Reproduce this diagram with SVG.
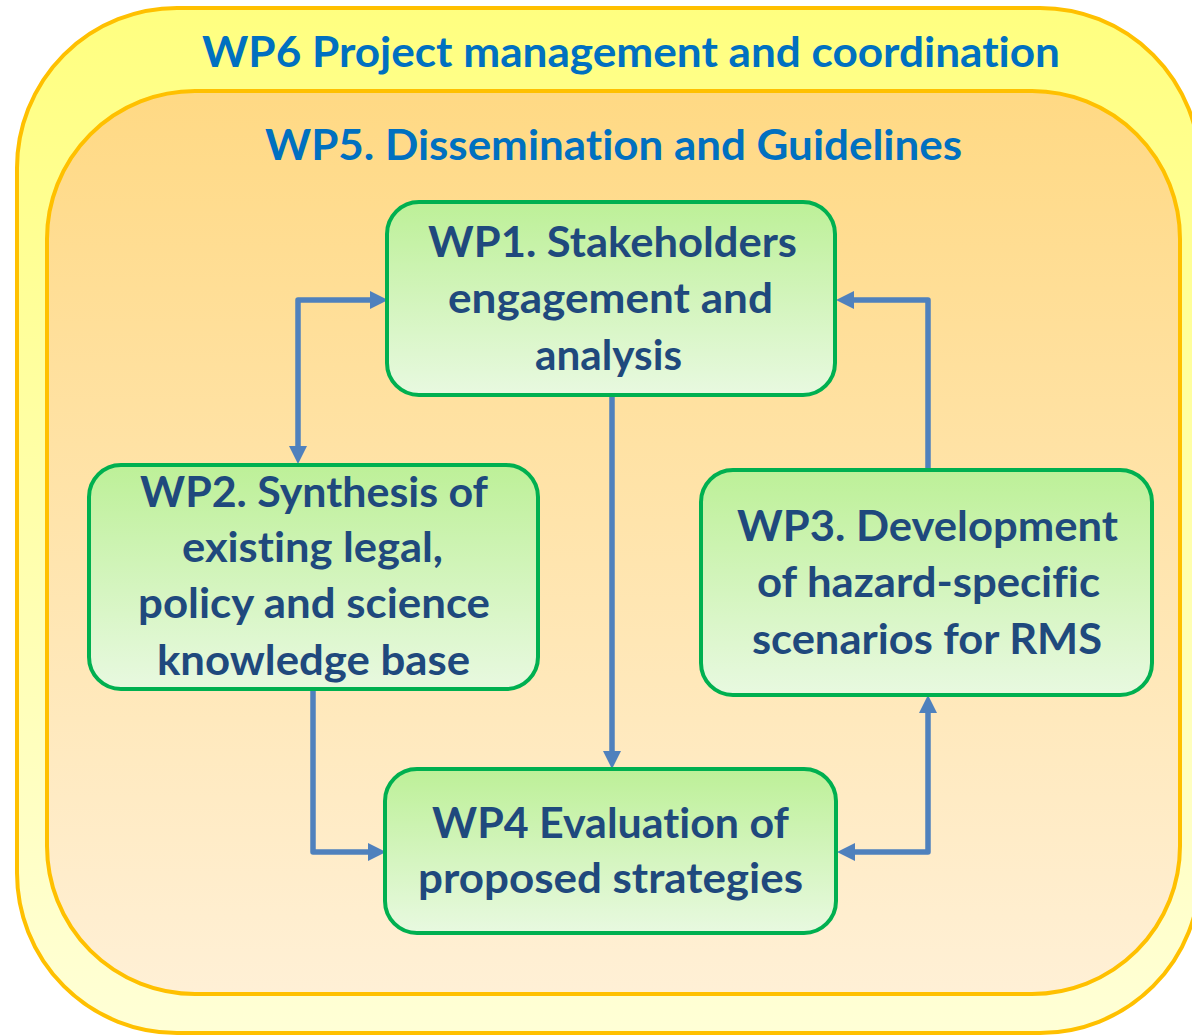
<svg xmlns="http://www.w3.org/2000/svg" width="1192" height="1036" viewBox="0 0 1192 1036">
  <defs>
    <linearGradient id="gOuter" x1="0" y1="0" x2="0" y2="1">
      <stop offset="0" stop-color="#FFFF80"/>
      <stop offset="1" stop-color="#FFFFD6"/>
    </linearGradient>
    <linearGradient id="gInner" x1="0" y1="0" x2="0" y2="1">
      <stop offset="0" stop-color="#FFD984"/>
      <stop offset="1" stop-color="#FFF0D6"/>
    </linearGradient>
    <linearGradient id="gNode" x1="0" y1="0" x2="0" y2="1">
      <stop offset="0" stop-color="#BDF098"/>
      <stop offset="1" stop-color="#E8F9E0"/>
    </linearGradient>
    <marker id="arr" viewBox="0 0 18 18" markerWidth="18" markerHeight="18" refX="1" refY="9" orient="auto-start-reverse" markerUnits="userSpaceOnUse">
      <path d="M0,0 L18,9 L0,18 z" fill="#4F81BD"/>
    </marker>
    <style>
      .title { font-family: Lato, "Liberation Sans", sans-serif; font-weight: bold; font-size: 42px; fill: #0070C0; font-variant-ligatures: none; font-feature-settings: "liga" 0, "dlig" 0, "clig" 0; }
      .frame { stroke: #FFC000; stroke-width: 4; }
      .box { fill: url(#gNode); stroke: #00B050; stroke-width: 4; }
      .lbl { font-family: Lato, "Liberation Sans", sans-serif; font-weight: bold; font-size: 42px; fill: #1F497D; font-variant-ligatures: none; font-feature-settings: "liga" 0, "dlig" 0, "clig" 0; }
      .conn { fill: none; stroke: #4F81BD; stroke-width: 5.5; stroke-linejoin: round; }
    </style>
  </defs>

  <g id="wp6">
    <rect class="frame" x="17" y="8" width="1183" height="1025" rx="160" ry="160" fill="url(#gOuter)"/>
    <text class="title" x="202" y="67" textLength="858" lengthAdjust="spacingAndGlyphs">WP6 Project management and coordination</text>
  </g>

  <g id="wp5">
    <rect class="frame" x="47" y="91" width="1133" height="903" rx="148" ry="148" fill="url(#gInner)"/>
    <text class="title" x="265" y="160" textLength="697" lengthAdjust="spacingAndGlyphs">WP5. Dissemination and Guidelines</text>
  </g>

  <g id="connectors">
    <path class="conn" d="M371,300 H298 V447" marker-start="url(#arr)" marker-end="url(#arr)"/>
    <path class="conn" d="M612,395 V752" marker-end="url(#arr)"/>
    <path class="conn" d="M313,689 V852 H369" marker-end="url(#arr)"/>
    <path class="conn" d="M928,470 V300 H853" marker-end="url(#arr)"/>
    <path class="conn" d="M854,852 H928 V712" marker-start="url(#arr)" marker-end="url(#arr)"/>
  </g>

  <g id="wp1">
    <rect class="box" x="387" y="202" width="448" height="193" rx="32" ry="32"/>
    <text class="lbl" x="428" y="257" textLength="369" lengthAdjust="spacingAndGlyphs">WP1. Stakeholders</text>
    <text class="lbl" x="448" y="313" textLength="325" lengthAdjust="spacingAndGlyphs">engagement and</text>
    <text class="lbl" x="535" y="370" textLength="147" lengthAdjust="spacingAndGlyphs">analysis</text>
  </g>

  <g id="wp2">
    <rect class="box" x="89" y="465" width="449" height="224" rx="32" ry="32"/>
    <text class="lbl" x="140" y="507" textLength="348" lengthAdjust="spacingAndGlyphs">WP2. Synthesis of</text>
    <text class="lbl" x="182" y="562" textLength="261" lengthAdjust="spacingAndGlyphs">existing legal,</text>
    <text class="lbl" x="138" y="618" textLength="352" lengthAdjust="spacingAndGlyphs">policy and science</text>
    <text class="lbl" x="157" y="675" textLength="313" lengthAdjust="spacingAndGlyphs">knowledge base</text>
  </g>

  <g id="wp3">
    <rect class="box" x="701" y="470" width="451" height="225" rx="32" ry="32"/>
    <text class="lbl" x="737" y="541" textLength="381" lengthAdjust="spacingAndGlyphs">WP3. Development</text>
    <text class="lbl" x="757" y="597" textLength="343" lengthAdjust="spacingAndGlyphs">of hazard-specific</text>
    <text class="lbl" x="752" y="654" textLength="350" lengthAdjust="spacingAndGlyphs">scenarios for RMS</text>
  </g>

  <g id="wp4">
    <rect class="box" x="385" y="769" width="451" height="164" rx="32" ry="32"/>
    <text class="lbl" x="432" y="838" textLength="357" lengthAdjust="spacingAndGlyphs">WP4 Evaluation of</text>
    <text class="lbl" x="418" y="893" textLength="385" lengthAdjust="spacingAndGlyphs">proposed strategies</text>
  </g>
</svg>
